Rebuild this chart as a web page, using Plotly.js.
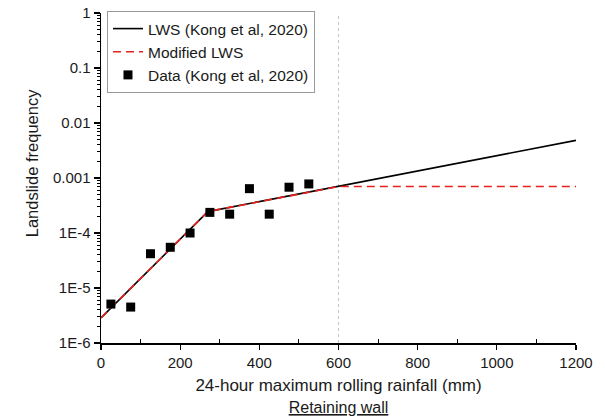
<!DOCTYPE html>
<html>
<head>
<meta charset="utf-8">
<script src="https://cdn.plot.ly/plotly-3.0.1.min.js"></script>
<style>html,body{margin:0;padding:0;background:#fff;}#chart{width:605px;height:416px;}</style>
</head>
<body>
<div id="chart"></div>
<script>
// Data
const dataX = [25, 75, 125, 175, 225, 275, 325, 375, 425, 475, 525];
const dataY = [5.1e-6, 4.5e-6, 4.2e-5, 5.5e-5, 1.0e-4, 2.37e-4, 2.2e-4, 6.4e-4, 2.2e-4, 6.8e-4, 7.8e-4];
const lwsX = [0, 270, 1200];
const lwsY = [2.87e-6, 2.45e-4, 4.83e-3];
const modX = [0, 270, 600, 1200];
const modY = [2.87e-6, 2.45e-4, 7.0e-4, 7.0e-4];
const xTickVals = [0, 200, 400, 600, 800, 1000, 1200];
const xMinorVals = [100, 300, 500, 700, 900, 1100];
const yTickVals = [1e-6, 1e-5, 1e-4, 1e-3, 1e-2, 1e-1, 1];
const yTickText = ["1E-6", "1E-5", "1E-4", "0.001", "0.01", "0.1", "1"];
const names = ["LWS (Kong et al, 2020)", "Modified LWS", "Data (Kong et al, 2020)"];
const xTitle = "24-hour maximum rolling rainfall (mm)";
const xSubTitle = "Retaining wall";
const yTitle = "Landslide frequency";

const minorY = [];
for (let e = -6; e < 0; e++) for (let m = 2; m < 10; m++) minorY.push(m * Math.pow(10, e));

const traces = [
  {x: lwsX, y: lwsY, mode: 'lines', name: names[0], line: {color: '#000', width: 1.6}},
  {x: modX, y: modY, mode: 'lines', name: names[1], line: {color: '#e8211d', width: 1.6, dash: '8px,5px'}},
  {x: dataX, y: dataY, mode: 'markers', name: names[2], marker: {symbol: 'square', size: 9, color: '#000'}}
];

const fam = 'Liberation Sans, Arial, sans-serif';
const layout = {
  width: 605, height: 416,
  margin: {l: 101, r: 29, t: 11, b: 73},
  paper_bgcolor: '#fff', plot_bgcolor: '#fff',
  font: {family: fam, size: 15, color: '#1a1a1a'},
  showlegend: true,
  legend: {x: 0.0126, y: 1.006, xanchor: 'left', yanchor: 'top', bgcolor: '#fff',
    bordercolor: '#9a9a9a', borderwidth: 1, font: {family: fam, size: 15.5, color: '#1a1a1a'},
    tracegroupgap: 0, itemwidth: 30},
  xaxis: {
    range: [0, 1200], tickmode: 'array', tickvals: xTickVals,
    showgrid: false, zeroline: false, showline: true, linecolor: '#000', linewidth: 1.5,
    ticks: 'outside', ticklen: 5, tickwidth: 1.2, tickcolor: '#000',
    minor: {tickmode: 'array', tickvals: xMinorVals, ticks: 'inside', ticklen: 4, tickwidth: 1, tickcolor: '#000', showgrid: false},
    tickfont: {family: fam, size: 15, color: '#1a1a1a'},
    title: {text: xTitle + '<br><span style="font-size:16px"><u>' + xSubTitle + '</u></span>', font: {family: fam, size: 17, color: '#1a1a1a'}, standoff: 12}
  },
  yaxis: {
    type: 'log', range: [-6, 0], tickmode: 'array', tickvals: yTickVals, ticktext: yTickText,
    showgrid: false, zeroline: false, showline: true, linecolor: '#000', linewidth: 1.5,
    ticks: 'outside', ticklen: 6, tickwidth: 1.2, tickcolor: '#000',
    minor: {tickmode: 'array', tickvals: minorY, ticks: 'outside', ticklen: 3, tickwidth: 1, tickcolor: '#000', showgrid: false},
    tickfont: {family: fam, size: 15, color: '#1a1a1a'}
  },
  annotations: [{text: yTitle, xref: 'paper', yref: 'paper', x: -0.145, y: 0.545,
    xanchor: 'center', yanchor: 'middle', textangle: -90, showarrow: false,
    font: {family: fam, size: 16.5, color: '#1a1a1a'}}],
  shapes: [{type: 'line', xref: 'x', yref: 'paper', x0: 600, x1: 600, y0: 0, y1: 1,
    line: {color: '#c4c4c4', width: 1, dash: 'dot'}, layer: 'below'}]
};
Plotly.newPlot('chart', traces, layout, {displayModeBar: false, staticPlot: true});
</script>
</body>
</html>
